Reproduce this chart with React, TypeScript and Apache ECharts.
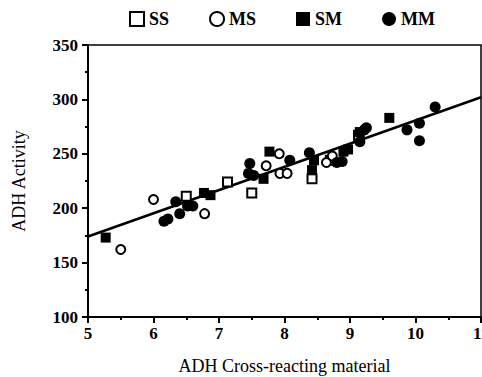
import React, { useEffect, useRef } from "react";
import * as echarts from "echarts";

const ssData: number[][] = [
  [6.5, 211], [7.13, 224], [7.5, 214], [8.42, 227], [8.7, 244], [9.13, 267],
];
const msData: number[][] = [
  [5.5, 162], [6.0, 208], [6.78, 195], [7.72, 239], [7.92, 250], [7.93, 232],
  [8.04, 232], [8.64, 242], [8.73, 248],
];
const smData: number[][] = [
  [5.27, 173], [6.77, 214], [6.87, 212], [7.68, 227], [7.77, 252], [8.42, 235],
  [8.45, 244], [8.9, 252], [8.97, 254], [9.15, 270], [9.6, 283],
];
const mmData: number[][] = [
  [6.16, 188], [6.22, 190], [6.34, 206], [6.4, 195], [6.52, 202], [6.6, 202],
  [7.47, 241], [7.45, 232], [7.53, 230], [8.08, 244], [8.38, 251], [8.8, 242],
  [8.88, 243], [9.15, 261], [9.22, 272], [9.25, 274], [9.87, 272], [10.06, 278],
  [10.06, 262], [10.3, 293],
];
const fitLine: number[][] = [
  [5, 174], [11, 302],
];
const seriesNames = ["SS", "MS", "SM", "MM"];

const FONT = "Liberation Serif";

export default function App() {
  const ref = useRef<HTMLDivElement>(null);
  useEffect(() => {
    if (!ref.current) return;
    const chart = echarts.init(ref.current, undefined, { renderer: "svg" });
    const openStyle = { color: "#fff", borderColor: "#000", borderWidth: 2, opacity: 1 };
    const filledStyle = { color: "#000", borderColor: "#000", borderWidth: 0, opacity: 1 };
    chart.setOption({
      animation: false,
      backgroundColor: "#fff",
      grid: {
        left: 88, right: 1, top: 45, bottom: 60,
        outerBoundsMode: "none",
        containLabel: false,
        show: true, borderColor: "#000", borderWidth: 1.5,
      },
      legend: {
        data: seriesNames,
        left: 124, top: 5,
        itemWidth: 14, itemHeight: 14, itemGap: 40,
        textStyle: { fontFamily: FONT, fontSize: 18, color: "#000", fontWeight: "bold" },
      },
      xAxis: {
        type: "value", min: 5, max: 11, interval: 1,
        name: "ADH Cross-reacting material",
        nameLocation: "middle", nameGap: 40,
        nameTextStyle: { fontFamily: FONT, fontSize: 18, color: "#000" },
        axisLine: { show: true, lineStyle: { color: "#000", width: 2 } },
        axisTick: { show: true, length: 6, lineStyle: { color: "#000", width: 2 } },
        minorTick: { show: true, splitNumber: 2, length: 3, lineStyle: { color: "#000", width: 2 } },
        splitLine: { show: false },
        axisLabel: { fontFamily: FONT, fontSize: 17, color: "#000", fontWeight: "bold", margin: 8, hideOverlap: false },
      },
      yAxis: {
        type: "value", min: 100, max: 350, interval: 50,
        name: "ADH Activity",
        nameLocation: "middle", nameGap: 60,
        nameTextStyle: { fontFamily: FONT, fontSize: 18, color: "#000" },
        axisLine: { show: true, lineStyle: { color: "#000", width: 2 } },
        axisTick: { show: true, length: 6, lineStyle: { color: "#000", width: 2 } },
        minorTick: { show: true, splitNumber: 2, length: 3, lineStyle: { color: "#000", width: 2 } },
        splitLine: { show: false },
        axisLabel: { fontFamily: FONT, fontSize: 17, color: "#000", fontWeight: "bold", margin: 10 },
      },
      series: [
        { name: "SS", type: "scatter", symbol: "rect", symbolSize: 9, data: ssData, itemStyle: openStyle, z: 3 },
        { name: "MS", type: "scatter", symbol: "circle", symbolSize: 9, data: msData, itemStyle: openStyle, z: 3 },
        { name: "SM", type: "scatter", symbol: "rect", symbolSize: 10, data: smData, itemStyle: filledStyle, z: 3 },
        { name: "MM", type: "scatter", symbol: "circle", symbolSize: 11, data: mmData, itemStyle: filledStyle, z: 3 },
        {
          name: "fit", type: "line", data: fitLine, showSymbol: false, symbol: "none",
          lineStyle: { color: "#000", width: 2.5 }, z: 2, silent: true,
        },
      ],
    });
    return () => chart.dispose();
  }, []);
  return <div ref={ref} style={{ width: 482, height: 377, position: "absolute", left: 0, top: 0 }} />;
}
